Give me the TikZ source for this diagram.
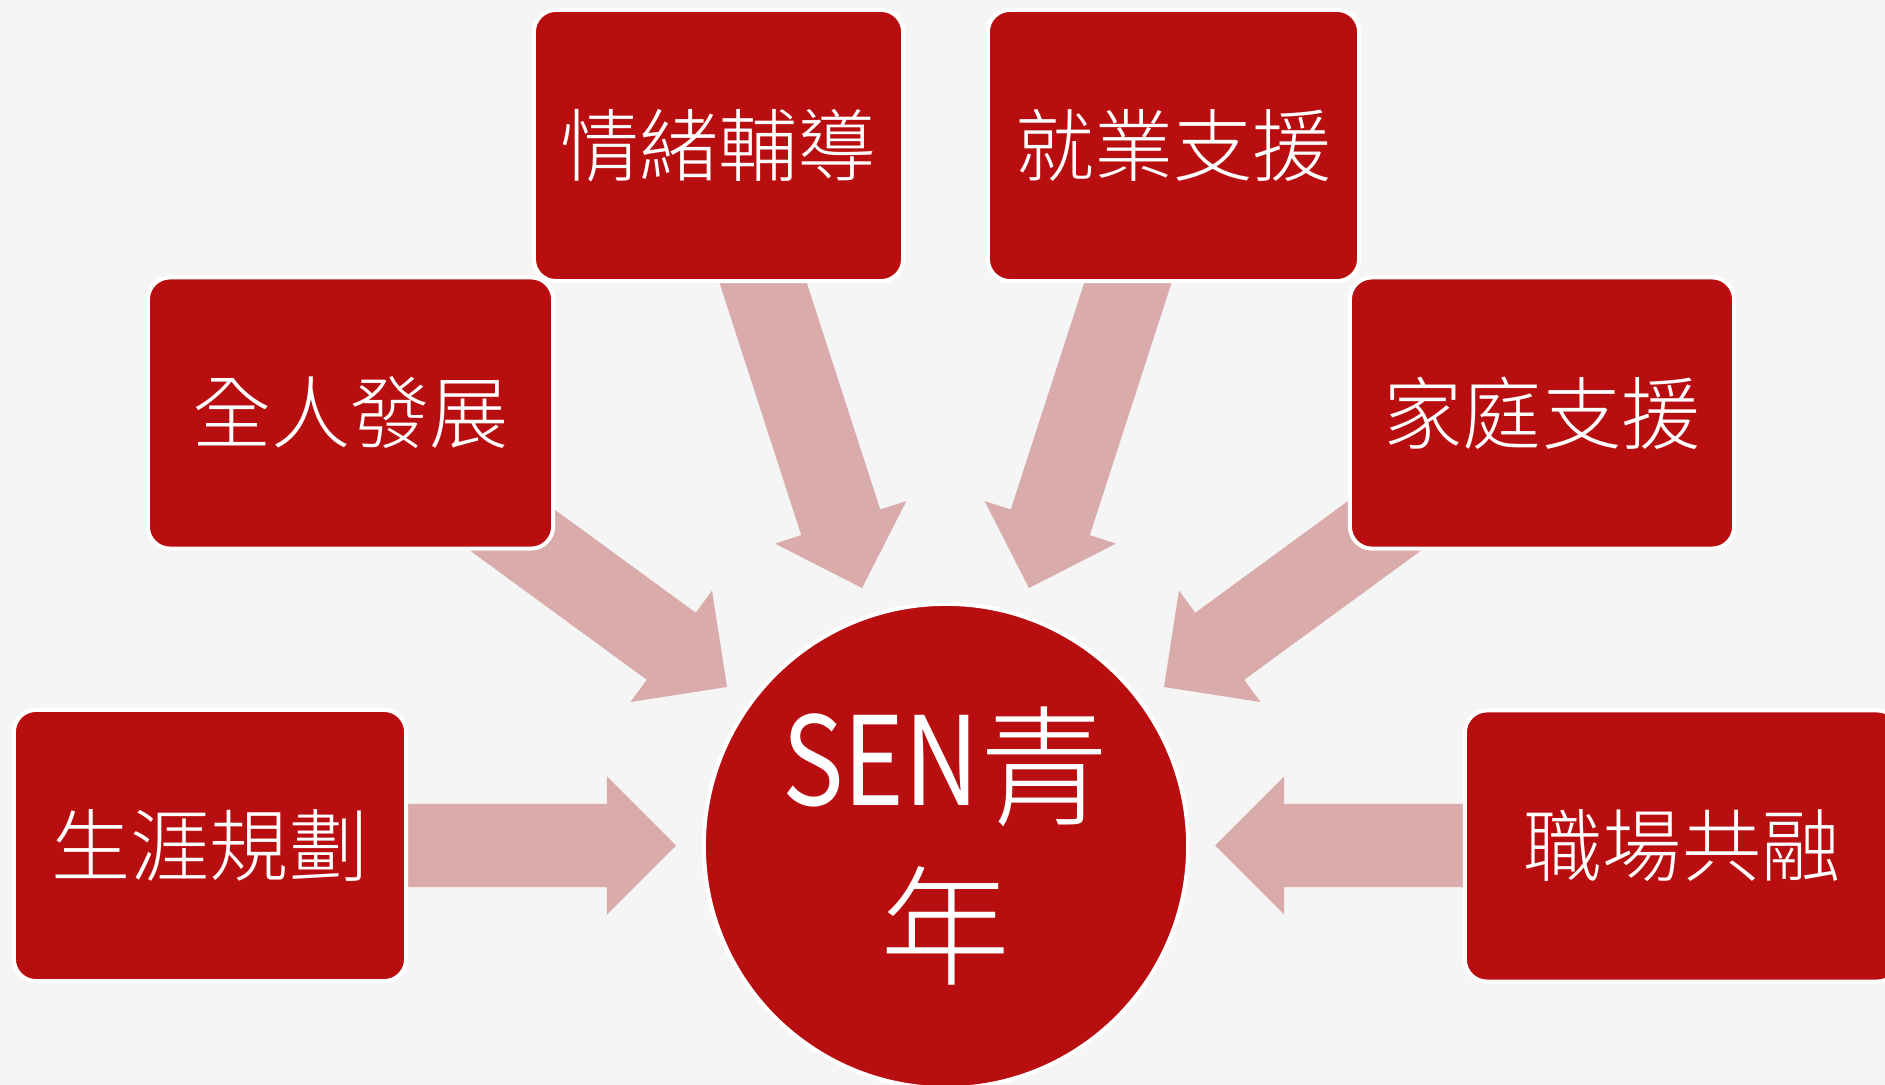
\documentclass[tikz,border=0pt]{standalone}
\usepackage{fontspec}
\usetikzlibrary{calc, positioning}
\IfFontExistsTF{Noto Sans CJK TC Light}
  {\newfontfamily\cjk{Noto Sans CJK TC Light}}
  {\newfontfamily\cjk{Noto Sans CJK TC}}
\newfontfamily\cjknarrow{Noto Sans CJK TC}[FakeStretch=0.84]
\definecolor{boxred}{RGB}{185,14,16}
\definecolor{arrowpink}{RGB}{217,171,171}
\definecolor{bggray}{RGB}{245,245,245}
\tikzset{
    topic_box/.style={rectangle, rounded corners=0.22cm, minimum width=3.7cm, minimum height = 2.71cm, text centered, align=center, fill=boxred, draw=white, line width=0.04cm, text=white, font=\cjk\fontsize{22.5}{27}\selectfont},
    hub_circ/.style={circle, minimum size=4.84cm, inner sep=0pt, text centered, align=center, fill=boxred, draw=white, line width=0.04cm, text=white, font=\cjk\fontsize{37}{45.5}\selectfont},
    block_arrow/.style={fill=arrowpink},
}
\newcommand{\lift}[2]{\raisebox{#1}[\dimexpr\height-#1\relax][\dimexpr\depth+#1\relax]{#2}}
\newcommand{\blockarrow}[2]{%
  \coordinate (head_base) at ($(#2)!0.69cm!(#1)$);
  \fill [block_arrow] ($(#1)!0.415cm!90:(#2)$) -- ($(head_base)!0.415cm!90:(#2)$)
    -- ($(head_base)!0.69cm!90:(#2)$) -- (#2) -- ($(head_base)!0.69cm!-90:(#2)$)
    -- ($(head_base)!0.415cm!-90:(#2)$) -- ($(#1)!0.415cm!-90:(#2)$) -- cycle;
}

\begin{document}
\begin{tikzpicture}[x=0.01cm, y=-0.01cm]
      \useasboundingbox (0,0) rectangle (1885,1085);
      \fill [bggray] (0,0) rectangle (1885,1085);

      \coordinate (emo_tail) at (752.5,250);
      \coordinate (emo_tip) at (862,588);
      \coordinate (job_tail) at (1138.5,250);
      \coordinate (job_tip) at (1029,588);
      \coordinate (whole_tail) at (444.5,480.5);
      \coordinate (whole_tip) at (727,687);
      \coordinate (family_tail) at (1446.5,480.5);
      \coordinate (family_tip) at (1164,687);
      \coordinate (career_tail) at (380,845.5);
      \coordinate (career_tip) at (676,845.5);
      \coordinate (work_tail) at (1510,845.5);
      \coordinate (work_tip) at (1215,845.5);

      \blockarrow{emo_tail}{emo_tip}
      \blockarrow{job_tail}{job_tip}
      \blockarrow{whole_tail}{whole_tip}
      \blockarrow{family_tail}{family_tip}
      \blockarrow{career_tail}{career_tip}
      \blockarrow{work_tail}{work_tip}

      \node (emo) at (718.5,145.5) [topic_box, minimum width=3.69cm]{情緒輔導};
      \node (job) at (1173.5,145.5) [topic_box, minimum width=3.71cm]{就業支援};
      \node (whole) at (350.5,413) [topic_box, minimum width=4.05cm]{全人發展};
      \node (family) at (1542,413) [topic_box, minimum width=3.84cm]{家庭支援};
      \node (career) at (210,845.5) [topic_box, minimum width=3.92cm]{生涯規劃};
      \node (work) at (1682,846) [topic_box, minimum width=4.34cm]{職場共融};

      \node (youth) at (946,846) [hub_circ]{{\cjknarrow\fontsize{35}{45.5}\selectfont\lift{0.1cm}{SEN}}青\\年};
   \end{tikzpicture}
\end{document}
